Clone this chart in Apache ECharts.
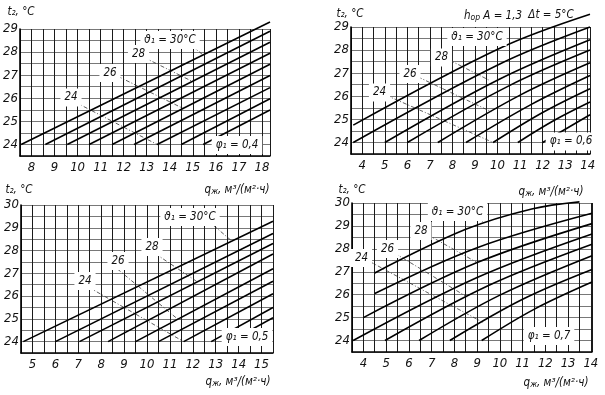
<!DOCTYPE html>
<html><head><meta charset="utf-8">
<script src="https://cdn.jsdelivr.net/npm/echarts@6/dist/echarts.min.js"></script>
<style>html,body{margin:0;padding:0;background:#fff}#c{width:605px;height:395px}</style>
</head><body><div id="c"></div>
<script>
// ϑ1 values of the curves (top to bottom)
const theta1 = [30, 29, 28, 27, 26, 25, 24, 23, 22];
// Panel curves: [q, t2] points
const p1Lines = [
  [[7.55,24],[18.35,29.3]],
  [[8.6,24],[18.35,28.9]],
  [[9.55,24],[18.35,28.43]],
  [[10.5,24],[18.35,27.95]],
  [[11.5,24],[18.35,27.47]],
  [[12.45,24],[18.35,26.99]],
  [[13.45,24],[18.35,26.46]],
  [[14.5,24],[18.35,25.98]],
  [[15.45,24],[18.35,25.49]]
];
const p2Lines = [
  [[3.6,24.75],[10.15,28.1],[14.1,29.55]],
  [[3.6,24.0],[10.1,27.4],[14.1,29.0]],
  [[5.0,24],[10.1,26.75],[14.1,28.45]],
  [[6.0,24],[10.5,26.45],[14.1,28.0]],
  [[7.35,24],[11,26.05],[14.1,27.45]],
  [[8.6,24],[11.5,25.65],[14.1,26.9]],
  [[9.8,24],[12,25.3],[14.1,26.33]],
  [[10.9,24],[12.5,24.95],[14.1,25.75]],
  [[12.0,24],[14.1,25.2]]
];
const p3Lines = [
  [[4.6,24],[15.5,29.29]],
  [[6.0,24],[15.5,28.75]],
  [[7.05,24],[15.5,28.31]],
  [[8.3,24],[15.5,27.85]],
  [[9.5,24],[15.5,27.2]],
  [[10.5,24],[15.5,26.65]],
  [[11.6,24],[15.5,26.1]],
  [[12.8,24],[15.5,25.5]],
  [[13.6,24],[15.5,25.05]]
];
const p4Lines = [
  [[4.5,26.95],[8.5,28.85],[11.4,29.74],[13.5,30.05]],
  [[4.5,26.05],[9,28.05],[14.05,29.55]],
  [[4.0,25.0],[9,27.4],[14.05,29.1]],
  [[3.55,24],[9,26.75],[14.05,28.65]],
  [[4.95,24],[9.5,26.4],[14.05,28.2]],
  [[6.45,24],[10,25.98],[14.05,27.7]],
  [[7.8,24],[11,25.8],[14.05,27.1]],
  [[9.2,24],[11.5,25.36],[14.05,26.55]]
];
// leader lines from labels (30, 28, 26, 24) to curves
const p1Leaders = [[[14.97,28.26],[15.45,27.87]],[[12.9,27.76],[14.98,26.73]],[[11.75,26.95],[14.6,25.55]],[[9.92,25.82],[13.45,24.0]]];
const p2Leaders = [[[10.07,28.37],[10.29,28.15]],[[7.9,27.55],[9.6,26.71]],[[6.47,26.84],[9.72,25.33]],[[5.07,26.04],[9.8,24.0]]];
const p3Leaders = [[[12.92,29.09],[13.7,28.42]],[[10.38,27.85],[12.22,26.61]],[[8.71,27.19],[11.35,24.98]],[[7.47,26.38],[11.6,24.0]]];
const p4Leaders = [[[9.09,29.41],[9.3,29.1]],[[6.84,28.61],[9.0,27.4]],[[5.38,27.81],[8.56,25.9]],[[4.29,27.44],[9.24,24.8]]];
// axis ranges
const xRanges = [[7.5,18.35],[3.5,14.1],[4.5,15.5],[3.5,14.05]];
const yRanges = [[23.5,29],[23.5,29],[23.5,30],[23.5,30]];
const phiLabels = ['φ₁ = 0,4','φ₁ = 0,6','φ₁ = 0,5','φ₁ = 0,7'];
const curveLabels = ['ϑ₁ = 30°C','28','26','24'];

const FONT = '"Liberation Sans Narrow","DejaVu Sans Condensed","Liberation Sans",sans-serif';
const grids = [
  {left:20, top:29, width:250, height:127},
  {left:351, top:27, width:239, height:127},
  {left:21, top:205, width:252, height:148},
  {left:352, top:203, width:240, height:149}
];
const panelLines = [p1Lines,p2Lines,p3Lines,p4Lines];
const panelLeaders = [p1Leaders,p2Leaders,p3Leaders,p4Leaders];
const smoothFlags = [false,0.35,false,0.35];

const intFmt = v => (Math.abs(v - Math.round(v)) < 1e-6 ? String(Math.round(v)) : '');
const labStyle = {color:'#111', fontStyle:'italic', fontSize:13, fontFamily:FONT};

const xAxis = [], yAxis = [], series = [];
grids.forEach((g,i) => {
  xAxis.push({type:'value', gridIndex:i, min:xRanges[i][0], max:xRanges[i][1], interval:0.5,
    axisLine:{show:true, onZero:false, lineStyle:{color:'#000', width:1.6}},
    axisTick:{show:false},
    axisLabel:Object.assign({formatter:intFmt, margin:5, showMinLabel:true, showMaxLabel:true, hideOverlap:false}, labStyle),
    splitLine:{show:true, lineStyle:{color:'#1a1a1a', width:1}}});
  yAxis.push({type:'value', gridIndex:i, min:yRanges[i][0], max:yRanges[i][1], interval:0.5,
    axisLine:{show:true, onZero:false, lineStyle:{color:'#000', width:1.6}},
    axisTick:{show:false},
    axisLabel:Object.assign({formatter:intFmt, margin:2, hideOverlap:false}, labStyle),
    splitLine:{show:true, lineStyle:{color:'#555', width:0.8}}});
  panelLines[i].forEach((ln,k) => {
    const s = {type:'line', name:'ϑ1=' + theta1[k], xAxisIndex:i, yAxisIndex:i, data:ln,
      symbol:'none', clip:false, smooth:smoothFlags[i], silent:true, animation:false,
      lineStyle:{color:'#000', width:1.6}, z:5};
    if (k === 0) {
      s.markLine = {symbol:['none','none'], silent:true, animation:false, label:{show:false},
        lineStyle:{type:[4,2,1,2], color:'#333', width:0.8},
        data: panelLeaders[i].map(l => [{coord:l[0]},{coord:l[1]}])};
    }
    series.push(s);
  });
});

function txt(x, y, text, opt) {
  return {type:'text', x:x, y:y, z:100, silent:true,
    style:Object.assign({text:text, align:'center', verticalAlign:'middle', fill:'#111',
      fontStyle:'italic', fontSize:11.5, fontFamily:FONT}, opt||{})};
}
const qName = '{a|q}{b|ж}{a|, м³/(м²·ч)}';
const subRich = {a:{fontStyle:'italic', fontSize:11.5, fontFamily:FONT, fill:'#111'}, b:{fontStyle:'italic', fontSize:8.5, fontFamily:FONT, fill:'#111', verticalAlign:'bottom', padding:[4,0,0,0]}};
const bg = {backgroundColor:'#fff', padding:[3,4]};
const tName = 't₂, °C';
const labelPos = [
  [[170,40],[138.5,54],[110,73],[71,97.5],[237,145]],
  [[477,37],[441.5,57.5],[410,74],[379.5,92.5],[571,141.5]],
  [[190,217],[152,247],[118,261],[85,281],[247,337]],
  [[457.5,212],[421,231],[387.5,249],[361.5,258],[549,336]]
];
const yNamePos = [[21,12.5],[350,14],[19,190],[352,190]];
const xNamePos = [[237,190],[551,192],[238,382],[556,383]];
const graphic = [];
for (let i=0;i<4;i++){
  graphic.push(txt(yNamePos[i][0], yNamePos[i][1], tName));
  graphic.push(txt(xNamePos[i][0], xNamePos[i][1], qName, {rich:subRich}));
  curveLabels.forEach((t,k)=> graphic.push(txt(labelPos[i][k][0], labelPos[i][k][1], t, bg)));
  graphic.push(txt(labelPos[i][4][0], labelPos[i][4][1], phiLabels[i], bg));
}
graphic.push(txt(493,16,'{a|h}{b|ор}{a| A = 1,3}', {rich:subRich}));
graphic.push(txt(551,15,'Δt = 5°C'));

const chart = echarts.init(document.getElementById('c'), null, {renderer:'canvas'});
chart.setOption({backgroundColor:'#fff', animation:false, grid:grids, xAxis:xAxis, yAxis:yAxis, series:series, graphic:graphic});
</script></body></html>
